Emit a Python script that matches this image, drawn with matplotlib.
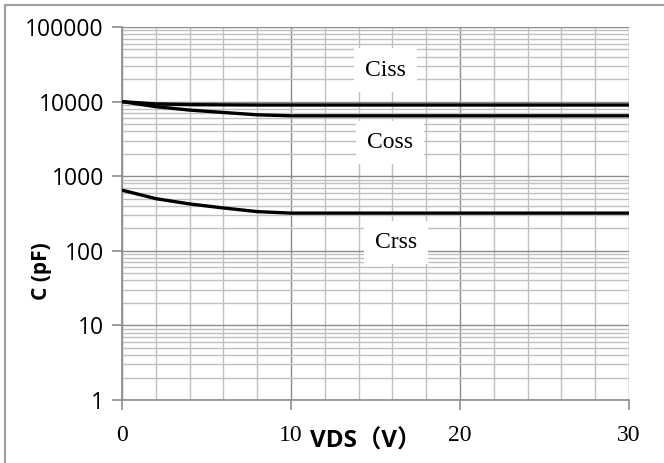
import matplotlib
matplotlib.use("Agg")
import matplotlib.pyplot as plt
from matplotlib.lines import Line2D
from matplotlib.ticker import FixedLocator, LogLocator, NullFormatter, FixedFormatter
import numpy as np

# Data
vds = [0, 2, 4, 6, 8, 10, 15, 20, 25, 30]
ciss = [10000, 9300, 9100, 9050, 9000, 9000, 9000, 9000, 9000, 9000]
coss = [10000, 8550, 7700, 7150, 6650, 6450, 6450, 6450, 6450, 6450]
crss = [650, 500, 425, 375, 335, 320, 320, 320, 320, 320]

series_labels = ["Ciss", "Coss", "Crss"]
label_x = [15.6, 15.85, 16.2]
label_y = [26500, 2850, 128]

x_ticks = [0, 10, 20, 30]
y_ticks = [1, 10, 100, 1000, 10000, 100000]
y_ticklabels = ["1", "10", "100", "1000", "10000", "100000"]

W, H = 664, 463
fig = plt.figure(figsize=(W / 100, H / 100), dpi=100)
ax = fig.add_axes([122 / W, 1 - 400 / H, (629 - 122) / W, (400 - 27) / H])

ax.set_yscale("log")
ax.set_xlim(0, 30)
ax.set_ylim(1, 100000)

major_c = "#8c8c8c"
minor_c = "#c0c0c0"

ax.xaxis.set_major_locator(FixedLocator(x_ticks))
ax.xaxis.set_minor_locator(FixedLocator(np.arange(0, 31, 2)))
ax.yaxis.set_major_locator(FixedLocator(y_ticks))
ax.yaxis.set_major_formatter(FixedFormatter(y_ticklabels))
ax.yaxis.set_minor_locator(LogLocator(base=10, subs=np.arange(2, 10)))
ax.yaxis.set_minor_formatter(NullFormatter())

ax.grid(True, which="minor", color=minor_c, linewidth=1.0)
ax.grid(True, which="major", color=major_c, linewidth=1.0)
ax.set_axisbelow(True)

for s in ["top", "right"]:
    ax.spines[s].set_visible(False)
for s in ["left", "bottom"]:
    ax.spines[s].set_color(major_c)
    ax.spines[s].set_linewidth(1.2)

ax.tick_params(axis="both", which="minor", length=0)
ax.tick_params(axis="y", which="major", length=7, width=1.2, color=major_c, pad=6,
               direction="out")
ax.tick_params(axis="x", which="major", length=7, width=1.2, color=major_c, pad=11,
               direction="out")

for lab in ax.get_yticklabels():
    lab.set_fontfamily("Open Sans")
    lab.set_fontsize(16.5)
for lab in ax.get_xticklabels():
    lab.set_fontfamily("Liberation Serif")
    lab.set_fontsize(17)

for yv in (ciss, coss, crss):
    ax.plot(vds, yv, color="black", linewidth=2.4, solid_capstyle="butt", zorder=3)

for name, lx, ly in zip(series_labels, label_x, label_y):
    ax.text(lx, ly, name, fontsize=17, family="Liberation Serif", ha="center", va="center",
            zorder=2, bbox=dict(facecolor="white", edgecolor="none", pad=8))

fig.text(366 / W, 1 - 442 / H, "VDS（V）", fontsize=17.5, fontweight="bold",
         family=["Open Sans", "Noto Sans CJK SC"], ha="center", va="center")
fig.text(41 / W, 1 - 271 / H, "C (pF)", fontsize=15, fontweight="bold",
         family="Open Sans", rotation=90, ha="center", va="center")

# figure frame (left and top edges)
fig.add_artist(Line2D([5 / W, 5 / W], [0, 1 - 5 / H], color="#a0a0a0", linewidth=1.5,
                      transform=fig.transFigure))
fig.add_artist(Line2D([5 / W, 1], [1 - 5 / H, 1 - 5 / H], color="#a0a0a0", linewidth=1.5,
                      transform=fig.transFigure))

fig.savefig("out.png", dpi=100)
